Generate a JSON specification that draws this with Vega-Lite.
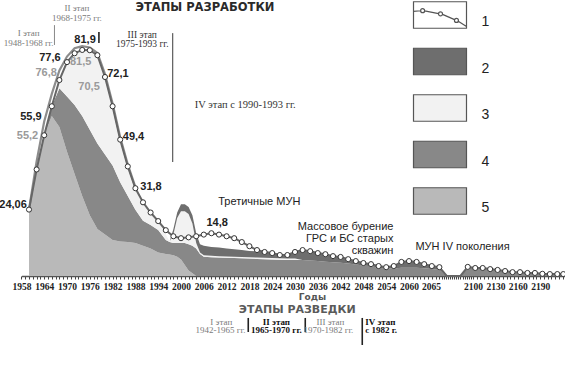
{
  "$schema": "https://vega.github.io/schema/vega-lite/v6.json",
  "width": 565,
  "height": 276,
  "autosize": {"type": "none"},
  "padding": {"left": 0, "top": 0, "right": 0, "bottom": 90},
  "background": "white",
  "config": {"view": {"stroke": null}},
  "datasets": {
    "bands": [
      {"year": 1960, "5": 24.06, "4": 0, "3": 0, "2": 0},
      {"year": 1962, "5": 38.6, "4": 0, "3": 0, "2": 0},
      {"year": 1964, "5": 51, "4": 0, "3": 0, "2": 0},
      {"year": 1966, "5": 58, "4": 3.5, "3": 0, "2": 0},
      {"year": 1968, "5": 54, "4": 14, "3": 3, "2": 0},
      {"year": 1970, "5": 45, "4": 20, "3": 12.5, "2": 0},
      {"year": 1972, "5": 37, "4": 25, "3": 18.7, "2": 0},
      {"year": 1974, "5": 29, "4": 29, "3": 23.9, "2": 0},
      {"year": 1976, "5": 22, "4": 31, "3": 28.8, "2": 0},
      {"year": 1978, "5": 17, "4": 31, "3": 32, "2": 0},
      {"year": 1980, "5": 15, "4": 29, "3": 28.1, "2": 0},
      {"year": 1982, "5": 13, "4": 27, "3": 21.5, "2": 0},
      {"year": 1984, "5": 12.5, "4": 21.5, "3": 15.4, "2": 0},
      {"year": 1986, "5": 12.3, "4": 16.7, "3": 10.7, "2": 0},
      {"year": 1988, "5": 12, "4": 12, "3": 7.8, "2": 0},
      {"year": 1990, "5": 11, "4": 9, "3": 6.7, "2": 0},
      {"year": 1992, "5": 10, "4": 8.5, "3": 4.5, "2": 0},
      {"year": 1994, "5": 8.5, "4": 8.2, "3": 3.2, "2": 0},
      {"year": 1996, "5": 8, "4": 5, "3": 2, "2": 0},
      {"year": 1997, "5": 7.8, "4": 4.5, "3": 0.2, "2": 0},
      {"year": 1998, "5": 7.5, "4": 4.5, "3": 3, "2": 2},
      {"year": 1999, "5": 7, "4": 5, "3": 9, "2": 2},
      {"year": 2000, "5": 6, "4": 6, "3": 11.5, "2": 2.5},
      {"year": 2001, "5": 4, "4": 8, "3": 11.5, "2": 2.5},
      {"year": 2002, "5": 2, "4": 9.5, "3": 11, "2": 2.5},
      {"year": 2003, "5": 1, "4": 10, "3": 8, "2": 3},
      {"year": 2004, "5": 0, "4": 10, "3": 2, "2": 3.5},
      {"year": 2005, "5": 0, "4": 8, "3": 0.5, "2": 3},
      {"year": 2006, "5": 0, "4": 7, "3": 0.5, "2": 3.5},
      {"year": 2008, "5": 0, "4": 6.8, "3": 0.5, "2": 3.2},
      {"year": 2010, "5": 0, "4": 6.7, "3": 0.5, "2": 3.1},
      {"year": 2012, "5": 0, "4": 6.6, "3": 0.5, "2": 2.9},
      {"year": 2014, "5": 0, "4": 6.5, "3": 0.5, "2": 2.7},
      {"year": 2016, "5": 0, "4": 6.4, "3": 0.5, "2": 2.5},
      {"year": 2018, "5": 0, "4": 6.3, "3": 0.5, "2": 2.3},
      {"year": 2020, "5": 0, "4": 6.2, "3": 0.5, "2": 2.2},
      {"year": 2022, "5": 0, "4": 6.1, "3": 0.5, "2": 2.1},
      {"year": 2024, "5": 0, "4": 6.0, "3": 0.5, "2": 1.8},
      {"year": 2026, "5": 0, "4": 5.9, "3": 0.5, "2": 1.2},
      {"year": 2028, "5": 0, "4": 5.8, "3": 0.5, "2": 1.3},
      {"year": 2030, "5": 0, "4": 5.8, "3": 0.5, "2": 2.4},
      {"year": 2032, "5": 0, "4": 5.8, "3": 0, "2": 3.6},
      {"year": 2034, "5": 0, "4": 5.6, "3": 0, "2": 3.4},
      {"year": 2036, "5": 0, "4": 5.4, "3": 0, "2": 2.9},
      {"year": 2038, "5": 0, "4": 5.2, "3": 0, "2": 2.7},
      {"year": 2040, "5": 0, "4": 5.0, "3": 0, "2": 2.2},
      {"year": 2042, "5": 0, "4": 4.8, "3": 0, "2": 2.1},
      {"year": 2044, "5": 0, "4": 4.5, "3": 0, "2": 1.6},
      {"year": 2046, "5": 0, "4": 4.2, "3": 0, "2": 1.2},
      {"year": 2048, "5": 0, "4": 3.8, "3": 0, "2": 0.9},
      {"year": 2050, "5": 0, "4": 3.5, "3": 0, "2": 0.8},
      {"year": 2052, "5": 0, "4": 3.0, "3": 0, "2": 0.6},
      {"year": 2054, "5": 0, "4": 2.7, "3": 0, "2": 0.5},
      {"year": 2056, "5": 0, "4": 2.7, "3": 0, "2": 0.9},
      {"year": 2058, "5": 0, "4": 3.0, "3": 0, "2": 2.1},
      {"year": 2060, "5": 0, "4": 3.0, "3": 0, "2": 2.4},
      {"year": 2062, "5": 0, "4": 3.0, "3": 0, "2": 2.1},
      {"year": 2064, "5": 0, "4": 2.8, "3": 0, "2": 1.5},
      {"year": 2066, "5": 0, "4": 2.5, "3": 0, "2": 1.1},
      {"year": 2068, "5": 0, "4": 2.2, "3": 0, "2": 1.0},
      {"year": 2075, "5": 0, "4": 0, "3": 0, "2": 0},
      {"year": 2088, "5": 0, "4": 0, "3": 0, "2": 0},
      {"year": 2095, "5": 0, "4": 3.3, "3": 0, "2": 0},
      {"year": 2103, "5": 0, "4": 2.9, "3": 0, "2": 0},
      {"year": 2113, "5": 0, "4": 2.9, "3": 0, "2": 0},
      {"year": 2123, "5": 0, "4": 2.5, "3": 0, "2": 0},
      {"year": 2133, "5": 0, "4": 2.2, "3": 0, "2": 0},
      {"year": 2143, "5": 0, "4": 1.8, "3": 0, "2": 0},
      {"year": 2153, "5": 0, "4": 1.4, "3": 0, "2": 0},
      {"year": 2163, "5": 0, "4": 1.4, "3": 0, "2": 0},
      {"year": 2173, "5": 0, "4": 1.1, "3": 0, "2": 0},
      {"year": 2183, "5": 0, "4": 1.1, "3": 0, "2": 0},
      {"year": 2193, "5": 0, "4": 0.8, "3": 0, "2": 0},
      {"year": 2203, "5": 0, "4": 0.7, "3": 0, "2": 0},
      {"year": 2213, "5": 0, "4": 0.7, "3": 0, "2": 0},
      {"year": 2221, "5": 0, "4": 0.7, "3": 0, "2": 0}
    ],
    "envelope": [
      {"year": 1960, "v": 24.06}, {"year": 1962, "v": 41.5}, {"year": 1964, "v": 56},
      {"year": 1966, "v": 66}, {"year": 1968, "v": 74.5}, {"year": 1970, "v": 79.5},
      {"year": 1972, "v": 82.5}, {"year": 1974, "v": 83.3}, {"year": 1976, "v": 82.8},
      {"year": 1978, "v": 80.8}, {"year": 1980, "v": 73.2}, {"year": 1982, "v": 62.5},
      {"year": 1984, "v": 50.3}, {"year": 1986, "v": 40.4}, {"year": 1988, "v": 32.2}
    ],
    "line": [
      {"year": 1960, "v": 24.06, "m": 1}, {"year": 1962, "v": 38.6, "m": 1}, {"year": 1964, "v": 51, "m": 1},
      {"year": 1966, "v": 61.5, "m": 1}, {"year": 1968, "v": 71, "m": 1}, {"year": 1970, "v": 77.5, "m": 1},
      {"year": 1972, "v": 80.7, "m": 1}, {"year": 1974, "v": 81.9, "m": 1}, {"year": 1976, "v": 81.8, "m": 1},
      {"year": 1978, "v": 80, "m": 1}, {"year": 1980, "v": 72.1, "m": 1}, {"year": 1982, "v": 61.5, "m": 1},
      {"year": 1984, "v": 49.4, "m": 1}, {"year": 1986, "v": 39.7, "m": 1}, {"year": 1988, "v": 31.8, "m": 1},
      {"year": 1990, "v": 26.7, "m": 1}, {"year": 1992, "v": 23, "m": 1}, {"year": 1994, "v": 19.9, "m": 1},
      {"year": 1996, "v": 16.6, "m": 1}, {"year": 1998, "v": 14.4, "m": 1}, {"year": 2000, "v": 13.7, "m": 1},
      {"year": 2002, "v": 14, "m": 1}, {"year": 2004, "v": 14.4, "m": 1}, {"year": 2006, "v": 15, "m": 1},
      {"year": 2008, "v": 15.5, "m": 1}, {"year": 2010, "v": 15, "m": 1}, {"year": 2012, "v": 14.4, "m": 1},
      {"year": 2014, "v": 13.7, "m": 1}, {"year": 2016, "v": 12.3, "m": 1}, {"year": 2018, "v": 10.8, "m": 1},
      {"year": 2020, "v": 9.4, "m": 1}, {"year": 2022, "v": 8.7, "m": 1}, {"year": 2024, "v": 8.3, "m": 1},
      {"year": 2026, "v": 7.6, "m": 1}, {"year": 2028, "v": 7.6, "m": 1}, {"year": 2030, "v": 8.7, "m": 1},
      {"year": 2032, "v": 9.4, "m": 1}, {"year": 2034, "v": 9.0, "m": 1}, {"year": 2036, "v": 8.3, "m": 1},
      {"year": 2038, "v": 7.9, "m": 1}, {"year": 2040, "v": 7.2, "m": 1}, {"year": 2042, "v": 6.9, "m": 1},
      {"year": 2044, "v": 6.1, "m": 1}, {"year": 2046, "v": 5.4, "m": 1}, {"year": 2048, "v": 4.7, "m": 1},
      {"year": 2050, "v": 4.3, "m": 1}, {"year": 2052, "v": 3.6, "m": 1}, {"year": 2054, "v": 3.2, "m": 1},
      {"year": 2056, "v": 3.6, "m": 1}, {"year": 2058, "v": 5.1, "m": 1}, {"year": 2060, "v": 5.4, "m": 1},
      {"year": 2062, "v": 5.1, "m": 1}, {"year": 2064, "v": 4.3, "m": 1}, {"year": 2066, "v": 3.6, "m": 1},
      {"year": 2068, "v": 3.2, "m": 1}, {"year": 2075, "v": 0, "m": 0}, {"year": 2088, "v": 0, "m": 0},
      {"year": 2095, "v": 3.3, "m": 1}, {"year": 2103, "v": 2.9, "m": 1}, {"year": 2113, "v": 2.9, "m": 1},
      {"year": 2123, "v": 2.5, "m": 1}, {"year": 2133, "v": 2.2, "m": 1}, {"year": 2143, "v": 1.8, "m": 1},
      {"year": 2153, "v": 1.4, "m": 1}, {"year": 2163, "v": 1.4, "m": 1}, {"year": 2173, "v": 1.1, "m": 1},
      {"year": 2183, "v": 1.1, "m": 1}, {"year": 2193, "v": 0.8, "m": 1}, {"year": 2203, "v": 0.7, "m": 1},
      {"year": 2213, "v": 0.7, "m": 1}, {"year": 2221, "v": 0.7, "m": 1}
    ],
    "valsDark": [
      {"year": 1974.75, "v": 85.5, "label": "81,9"},
      {"year": 1983.4, "v": 73.2, "label": "72,1"},
      {"year": 1987.5, "v": 50.4, "label": "49,4"},
      {"year": 1992.1, "v": 32.2, "label": "31,8"},
      {"year": 1960.5, "v": 57.6, "label": "55,9"},
      {"year": 1965.5, "v": 79, "label": "77,6"},
      {"year": 2009.5, "v": 19.2, "label": "14,8"},
      {"year": 1955.8, "v": 25.7, "label": "24,06"}
    ],
    "valsGray": [
      {"year": 1959.6, "v": 50.7, "label": "55,2"},
      {"year": 1964.5, "v": 73.6, "label": "76,8"},
      {"year": 1973.6, "v": 77.5, "label": "81,5"},
      {"year": 1975.8, "v": 68.5, "label": "70,5"}
    ],
    "head1": [{"year": 2006.3, "v": 97.1, "label": "ЭТАПЫ РАЗРАБОТКИ"}],
    "head2": [{"year": 2030.6, "v": -12.3, "label": "ЭТАПЫ РАЗВЕДКИ"}],
    "stagesGray": [
      {"year": 1959.9, "v": 88.0, "label": "I этап"},
      {"year": 1959.9, "v": 84.4, "label": "1948-1968 гг."},
      {"year": 1972.6, "v": 97.1, "label": "II этап"},
      {"year": 1972.6, "v": 93.5, "label": "1968-1975 гг."},
      {"year": 2010.6, "v": -16.5, "label": "I этап"},
      {"year": 2010.4, "v": -19.6, "label": "1942-1965 гг."},
      {"year": 2039.3, "v": -16.5, "label": "III этап"},
      {"year": 2038.8, "v": -19.6, "label": "1970-1982 гг."}
    ],
    "stagesDark": [
      {"year": 1989.8, "v": 87.3, "label": "III этап"},
      {"year": 1989.8, "v": 84.1, "label": "1975-1993 гг."}
    ],
    "stage4": [{"year": 2016.9, "v": 62, "label": "IV этап с 1990-1993 гг."}],
    "stagesBold": [
      {"year": 2025.1, "v": -16.5, "label": "II этап"},
      {"year": 2025.1, "v": -19.6, "label": "1965-1970 гг."}
    ],
    "stagesBoldLeft": [
      {"year": 2048.5, "v": -16.5, "label": "IV этап"},
      {"year": 2048.5, "v": -19.6, "label": "с 1982 г."}
    ],
    "notesCenter": [{"year": 2020.6, "v": 26.8, "label": "Третичные МУН"}],
    "notesRight": [
      {"year": 2055.9, "v": 17.8, "label": "Массовое бурение"},
      {"year": 2055.9, "v": 13.4, "label": "ГРС и БС старых"},
      {"year": 2055.9, "v": 9.1, "label": "скважин"}
    ],
    "notesLeft": [{"year": 2061.7, "v": 10.5, "label": "МУН IV поколения"}],
    "ruleGray": [{"year": 1966.7, "v": 90.9, "v2": 83.7}],
    "ruleMid": [{"year": 1997.8, "v": 88, "v2": 41.3}],
    "ruleDark": [
      {"year": 1978.4, "v": 88.4, "v2": 84.4},
      {"year": 2017.7, "v": -15.2, "v2": -20.3},
      {"year": 2032.7, "v": -15.2, "v2": -20.3},
      {"year": 2047.7, "v": -15.2, "v2": -25}
    ]
  },
  "encoding": {
    "x": {
      "field": "year",
      "type": "quantitative",
      "scale": {"domain": [1958, 2068, 2100, 2230], "range": [21.4, 439.4, 473, 570], "nice": false, "zero": false},
      "axis": {
        "values": [1958,1959,1960,1961,1962,1963,1964,1965,1966,1967,1968,1969,1970,1971,1972,1973,1974,1975,1976,1977,1978,1979,1980,1981,1982,1983,1984,1985,1986,1987,1988,1989,1990,1991,1992,1993,1994,1995,1996,1997,1998,1999,2000,2001,2002,2003,2004,2005,2006,2007,2008,2009,2010,2011,2012,2013,2014,2015,2016,2017,2018,2019,2020,2021,2022,2023,2024,2025,2026,2027,2028,2029,2030,2031,2032,2033,2034,2035,2036,2037,2038,2039,2040,2041,2042,2043,2044,2045,2046,2047,2048,2049,2050,2051,2052,2053,2054,2055,2056,2057,2058,2059,2060,2061,2062,2063,2064,2065,2066,2067,2068,2070,2072,2074,2076,2078,2080,2082,2084,2086,2088,2090,2092,2094,2096,2098,2100,2105,2110,2115,2120,2125,2130,2135,2140,2145,2150,2155,2160,2165,2170,2175,2180,2185,2190,2195,2200,2205,2210,2215,2220],
        "labelExpr": "indexof([1958,1964,1970,1976,1982,1988,1994,2000,2006,2012,2018,2024,2030,2036,2042,2048,2054,2060,2065,2100,2130,2160,2190], datum.value) >= 0 ? datum.label : ''",
        "labelOffset": {"condition": {"test": "datum.value == 2065", "value": 3}, "value": 0},
        "format": "d",
        "labelOverlap": false,
        "labelFlush": false,
        "labelFont": "Liberation Sans Narrow",
        "labelFontWeight": "bold",
        "labelFontSize": 9.5,
        "labelColor": "#222",
        "labelPadding": 2,
        "tickSize": 3,
        "tickColor": "#444",
        "tickWidth": 1,
        "domainColor": "#555",
        "domainWidth": 1.5,
        "grid": false,
        "title": "Годы",
        "titleFont": "DejaVu Sans",
        "titleFontSize": 9,
        "titleFontWeight": "bold",
        "titleColor": "#555",
        "titleX": 312,
        "titleY": 20,
        "titleBaseline": "middle"
      }
    },
    "y": {
      "field": "v",
      "type": "quantitative",
      "scale": {"domain": [0, 100], "nice": false, "zero": false},
      "axis": null
    }
  },
  "layer": [
    {
      "data": {"name": "bands"},
      "transform": [{"fold": ["5", "4", "3", "2"], "as": ["k", "t"]}],
      "mark": {"type": "area", "opacity": 1},
      "encoding": {
        "y": {"field": "t", "type": "quantitative", "stack": "zero", "scale": {"domain": [0, 100], "nice": false, "zero": false}, "axis": null},
        "fill": {
          "field": "k",
          "type": "nominal",
          "scale": {"domain": ["1", "2", "3", "4", "5"], "range": ["#ffffff", "#6e6e6e", "#f2f2f2", "#888888", "#b9b9b9"]},
          "legend": {
            "orient": "none",
            "legendX": 426,
            "legendY": 1,
            "title": null,
            "direction": "vertical",
            "padding": 0,
            "symbolType": "M-2,-1H2V1H-2Z",
            "symbolSize": 702,
            "symbolStrokeColor": "#555",
            "symbolStrokeWidth": 1.2,
            "symbolOpacity": 1,
            "rowPadding": 14.5,
            "labelOffset": 27.5,
            "labelFont": "Liberation Sans",
            "labelFontSize": 14,
            "labelColor": "#222",
            "labelBaseline": "top",
            "encode": {
              "symbols": {
                "update": {
                  "shape": {"signal": "datum.value === '1' ? 'M-2,-1H2V1H-2ZM-2,-0.28L-1.46,-0.32M-1.16,-0.31L-0.11,-0.1M0.19,-0.05L1.1,0.35M1.38,0.47L2,0.87M-1.16,-0.33A0.15,0.15 0 1,1 -1.46,-0.33A0.15,0.15 0 1,1 -1.16,-0.33ZM0.19,-0.08A0.15,0.15 0 1,1 -0.11,-0.08A0.15,0.15 0 1,1 0.19,-0.08ZM1.39,0.41A0.15,0.15 0 1,1 1.09,0.41A0.15,0.15 0 1,1 1.39,0.41Z' : 'M-2,-1H2V1H-2Z'"},
                  "stroke": {"value": "#555"},
                  "strokeWidth": {"value": 1.2}
                }
              }
            }
          }
        },
        "order": {"field": "k", "sort": "descending"}
      }
    },
    {
      "data": {"name": "envelope"},
      "mark": {"type": "line", "color": "#8c8c8c", "strokeWidth": 2.2}
    },
    {
      "data": {"name": "line"},
      "mark": {"type": "line", "color": "#666666", "strokeWidth": 2}
    },
    {
      "data": {"name": "line"},
      "transform": [{"filter": "datum.m == 1"}],
      "mark": {"type": "point", "shape": "circle", "filled": true, "fill": "white", "stroke": "#333", "strokeWidth": 1, "size": 26, "opacity": 1}
    },
    {
      "data": {"name": "ruleGray"},
      "mark": {"type": "rule", "color": "#888", "strokeWidth": 1},
      "encoding": {"y2": {"field": "v2"}}
    },
    {
      "data": {"name": "ruleMid"},
      "mark": {"type": "rule", "color": "#666", "strokeWidth": 1.3},
      "encoding": {"y2": {"field": "v2"}}
    },
    {
      "data": {"name": "ruleDark"},
      "mark": {"type": "rule", "color": "#222", "strokeWidth": 1.6},
      "encoding": {"y2": {"field": "v2"}}
    },
    {
      "data": {"name": "valsDark"},
      "mark": {"type": "text", "font": "Liberation Sans", "fontWeight": "bold", "fontSize": 11, "color": "#222", "baseline": "middle", "align": "center"},
      "encoding": {"text": {"field": "label"}}
    },
    {
      "data": {"name": "valsGray"},
      "mark": {"type": "text", "font": "Liberation Sans", "fontWeight": "bold", "fontSize": 11, "color": "#9a9a9a", "baseline": "middle", "align": "center"},
      "encoding": {"text": {"field": "label"}}
    },
    {
      "data": {"name": "head1"},
      "mark": {"type": "text", "font": "DejaVu Sans", "fontWeight": "bold", "fontSize": 11.5, "color": "#2a2a2a", "baseline": "middle", "align": "center"},
      "encoding": {"text": {"field": "label"}}
    },
    {
      "data": {"name": "head2"},
      "mark": {"type": "text", "font": "DejaVu Sans", "fontWeight": "bold", "fontSize": 11, "color": "#5a5a5a", "baseline": "middle", "align": "center"},
      "encoding": {"text": {"field": "label"}}
    },
    {
      "data": {"name": "stagesGray"},
      "mark": {"type": "text", "font": "Liberation Serif", "fontSize": 9, "color": "#7a7a7a", "baseline": "middle", "align": "center"},
      "encoding": {"text": {"field": "label"}}
    },
    {
      "data": {"name": "stagesDark"},
      "mark": {"type": "text", "font": "Liberation Serif", "fontSize": 9.5, "color": "#333", "baseline": "middle", "align": "center"},
      "encoding": {"text": {"field": "label"}}
    },
    {
      "data": {"name": "stage4"},
      "mark": {"type": "text", "font": "Liberation Serif", "fontSize": 10.5, "color": "#333", "baseline": "middle", "align": "center"},
      "encoding": {"text": {"field": "label"}}
    },
    {
      "data": {"name": "stagesBold"},
      "mark": {"type": "text", "font": "Liberation Serif", "fontWeight": "bold", "fontSize": 9, "color": "#111", "baseline": "middle", "align": "center"},
      "encoding": {"text": {"field": "label"}}
    },
    {
      "data": {"name": "stagesBoldLeft"},
      "mark": {"type": "text", "font": "Liberation Serif", "fontWeight": "bold", "fontSize": 9, "color": "#111", "baseline": "middle", "align": "left"},
      "encoding": {"text": {"field": "label"}}
    },
    {
      "data": {"name": "notesCenter"},
      "mark": {"type": "text", "font": "Liberation Sans", "fontSize": 11, "color": "#222", "baseline": "middle", "align": "center"},
      "encoding": {"text": {"field": "label"}}
    },
    {
      "data": {"name": "notesRight"},
      "mark": {"type": "text", "font": "Liberation Sans", "fontSize": 11, "color": "#222", "baseline": "middle", "align": "right"},
      "encoding": {"text": {"field": "label"}}
    },
    {
      "data": {"name": "notesLeft"},
      "mark": {"type": "text", "font": "Liberation Sans", "fontSize": 11, "color": "#222", "baseline": "middle", "align": "left"},
      "encoding": {"text": {"field": "label"}}
    }
  ]
}
